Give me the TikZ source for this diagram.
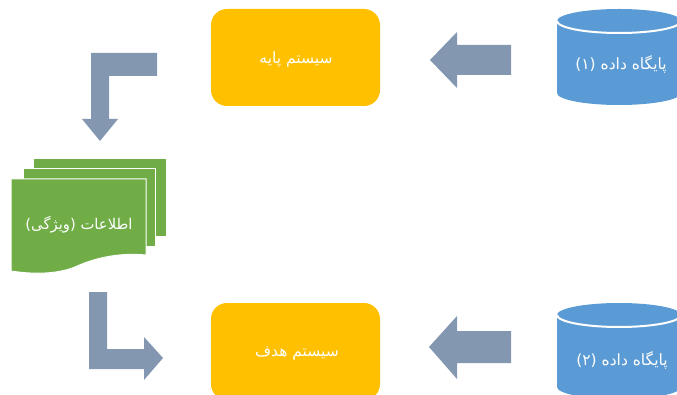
\documentclass[tikz,border=0pt]{standalone}
\usepackage{fontspec}
\TeXXeTstate=1
\newfontfamily\arabicfont[Script=Arabic]{DejaVu Sans}
\definecolor{dbblue}{HTML}{5B9BD5}
\definecolor{sysgold}{HTML}{FFC000}
\definecolor{docgreen}{HTML}{70AD47}
\definecolor{arrowslate}{HTML}{8497B0}
\tikzset{
  x=1pt,y=-1pt,
  blockarrow/.style={fill=arrowslate,draw=none},
  sysbox/.style={fill=sysgold,draw=none,rounded corners=16pt,minimum width=169pt,minimum height=97pt,inner sep=0pt},
  dbbody/.style={fill=dbblue,draw=none},
  dbrim/.style={draw=white,line width=2pt},
  docpage/.style={fill=docgreen,draw=white,line width=1pt},
  label/.style={text=white,font=\arabicfont\fontsize{15.5}{18}\selectfont,inner sep=0pt},
  doclabel/.style={label,font=\arabicfont\fontsize{14.8}{18}\selectfont},
}
\begin{document}
\begin{tikzpicture}
\useasboundingbox (0,0) rectangle (677,395);
% system boxes
\node[sysbox] (base) at (295.5,57.5) {};
\node[sysbox] (target) at (295.5,351.5) {};
\node[label] (baseT) at (296,60) {\beginR سیستم پایه\endR};
\node[label] (targetT) at (297,353) {\beginR سیستم هدف\endR};
% databases
\foreach \t in {9,303}{
  \fill[dbbody] (557,\t+12) arc[start angle=180,end angle=360,x radius=62,y radius=12]
     -- (681,\t+84) arc[start angle=0,end angle=180,x radius=62,y radius=12] -- cycle;
  \draw[dbrim] (557,\t+12) arc[start angle=180,end angle=0,x radius=62,y radius=12];
}
\node[label] (dboneT) at (621,64) {\beginR پایگاه داده (۱)\endR};
\node[label] (dbtwoT) at (622,360) {\beginR پایگاه داده (۲)\endR};
% documents
\path[docpage] (33,159) -- (166,159) -- (166,236.5) -- (33,236.5) -- cycle;
\path[docpage] (23,169) -- (155,169) -- (155,246.5) -- (23,246.5) -- cycle;
\path[docpage] (11,179) -- (146,179) -- (146,255) .. controls (115,252) and (90,260) .. (75,267) .. controls (55,275) and (30,274) .. (11,271) -- cycle;
\node[doclabel] (docT) at (79,225) {\beginR اطلاعات (ویژگی)\endR};
% block arrows
\path[blockarrow] (511,45) -- (457,45) -- (457,32) -- (430,60) -- (457,88) -- (457,75) -- (511,75) -- cycle;
\path[blockarrow] (511,331) -- (457,331) -- (457,316) -- (429,347) -- (457,379) -- (457,363) -- (511,363) -- cycle;
\path[blockarrow] (157,53) -- (91,53) -- (91,119) -- (82,119) -- (100,141) -- (118,119) -- (109,119) -- (109,76) -- (157,76) -- cycle;
\path[blockarrow] (89,292) -- (107,292) -- (107,349) -- (144,349) -- (144,337) -- (163,358) -- (144,380) -- (144,369) -- (89,369) -- cycle;
\end{tikzpicture}
\end{document}
